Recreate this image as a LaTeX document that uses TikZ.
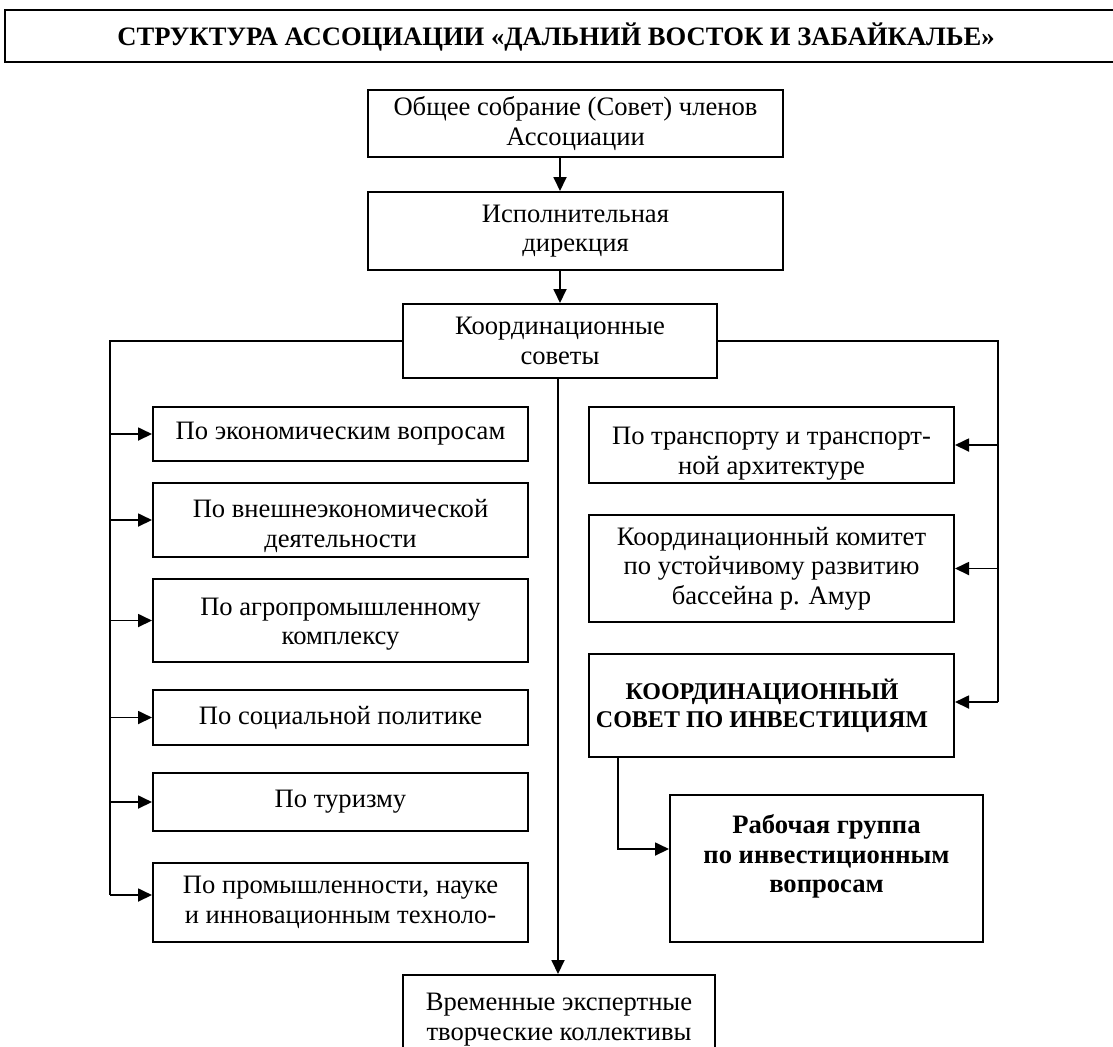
\documentclass[tikz,border=0pt]{standalone}
\usepackage{fontspec}
\setmainfont{Liberation Serif}
\usetikzlibrary{arrows.meta}
\newcommand\shiftedtext[2]{\raisebox{#1}[0pt][0pt]{\begin{tabular}{@{}c@{}}#2\end{tabular}}}
\begin{document}
\begin{tikzpicture}[x=0.5pt,y=-0.5pt,
  txt/.style={font=\fontsize{13.3}{14.8}\selectfont, align=center},
  btxt/.style={font=\bfseries\fontsize{13.3}{14.8}\selectfont, align=center},
  box/.style={draw, line width=1pt, inner sep=0pt, txt},
  corners/.style n args={4}{minimum width={(#3-#1)*0.5pt}, minimum height={(#4-#2)*0.5pt}, at={({(#1+#3)/2},{(#2+#4)/2})}},
  con/.style={line width=0.9pt},
  arr/.style={con, -{Triangle[length=7pt,width=6.5pt]}}]
\useasboundingbox (0,0) rectangle (1113,1046);
% title
\node[box, corners={5}{10}{1130}{62}] (title) {};
\node[btxt] (titletext) at (556,37) {СТРУКТУРА АССОЦИАЦИИ «ДАЛЬНИЙ ВОСТОК И ЗАБАЙКАЛЬЕ»};
% top chain
\node[box, corners={368}{90}{783}{157}] (b1) {Общее собрание (Совет) членов\\Ассоциации};
\node[box, corners={368}{192}{783}{270}] (b2) {Исполнительная\\дирекция};
\node[box, corners={403}{304}{717}{378}] (b3) {Координационные\\советы};
% left column
\node[box, corners={153}{407}{528}{461}] (l1) {По экономическим вопросам};
\node[box, corners={153}{483}{528}{557}] (l2) {\shiftedtext{-7pt}{По внешнеэкономической\\деятельности}};
\node[box, corners={153}{579}{528}{662}] (l3) {\shiftedtext{-5.3pt}{По агропромышленному\\комплексу}};
\node[box, corners={153}{690}{528}{745}] (l4) {По социальной политике};
\node[box, corners={153}{773}{528}{831}] (l5) {По туризму};
\node[box, corners={153}{863}{528}{942}] (l6) {По промышленности, науке\\и инновационным техноло-};
% right column
\node[box, corners={589}{407}{954}{483}] (r1) {\shiftedtext{-7.8pt}{По транспорту и транспорт-\\ной архитектуре}};
\node[box, corners={589}{515}{954}{622}] (r2) {Координационный комитет\\по устойчивому развитию\\бассейна р. Амур};
\node[box, corners={589}{654}{954}{757}, font=\bfseries\fontsize{12}{14}\selectfont] (r3) {КООРДИНАЦИОННЫЙ\hspace*{9.5pt}\\СОВЕТ ПО ИНВЕСТИЦИЯМ\hspace*{9.5pt}};
\node[box, corners={670}{795}{983}{942}, btxt] (rg) {Рабочая группа\\по инвестиционным\\вопросам\\\mbox{}};
% bottom
\node[box, corners={403}{975}{715}{1075}] (bt) {\shiftedtext{-1pt}{Временные экспертные\\творческие коллективы}};
% connectors
\draw[arr] (b3.north |- b1.south) -- (b3.north |- b2.north);
\draw[arr] (b3.north |- b2.south) -- (b3.north);
\coordinate (lend) at (110,895);
\draw[con] (b3.west) -| (lend);
\foreach \n in {l1,l2,l3,l4,l5} \draw[arr] (lend |- \n.west) -- (\n.west);
\draw[arr] (lend) -- (lend -| l6.west);
\coordinate (rend) at (998,702);
\draw[con] (b3.east) -| (rend);
\foreach \n in {r1,r2} \draw[arr] (rend |- \n.east) -- (\n.east);
\draw[arr] (rend) -- (rend -| r3.east);
\coordinate (k1) at (618,849);
\draw[arr] (r3.south -| k1) -- (k1) -- (k1 -| rg.west);
\coordinate (c1) at (558,378);
\draw[arr] (c1) -- (c1 |- bt.north);
\end{tikzpicture}
\end{document}
